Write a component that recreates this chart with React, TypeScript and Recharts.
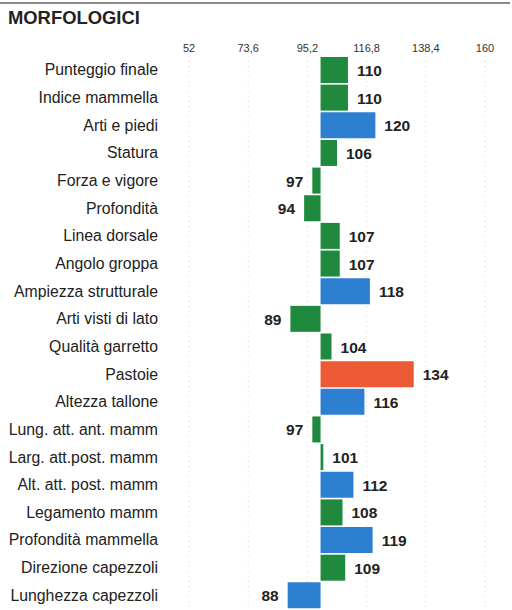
import React from 'react';
import { BarChart, Bar, XAxis, YAxis, CartesianGrid, LabelList, Cell } from 'recharts';

const traits = [
  'Punteggio finale',
  'Indice mammella',
  'Arti e piedi',
  'Statura',
  'Forza e vigore',
  'Profondità',
  'Linea dorsale',
  'Angolo groppa',
  'Ampiezza strutturale',
  'Arti visti di lato',
  'Qualità garretto',
  'Pastoie',
  'Altezza tallone',
  'Lung. att. ant. mamm',
  'Larg. att.post. mamm',
  'Alt. att. post. mamm',
  'Legamento mamm',
  'Profondità mammella',
  'Direzione capezzoli',
  'Lunghezza capezzoli',
];

const values = [110, 110, 120, 106, 97, 94, 107, 107, 118, 89, 104, 134, 116, 97, 101, 112, 108, 119, 109, 88];

const xTicks = [52, 73.6, 95.2, 116.8, 138.4, 160];
const BASE = 100;

const data = traits.map((name, i) => ({ name, v: values[i] }));

const barColor = (v: number) => {
  const d = Math.abs(v - BASE);
  if (d >= 30) return '#ec5a35';
  if (d >= 12) return '#2d7fd2';
  return '#1f8a3d';
};

const ValueLabel = (props: any) => {
  const { x, y, width, height, index } = props;
  const v = values[index];
  const cy = y + height / 2;
  if (v >= BASE) {
    return (
      <text x={x + width + 9} y={cy} dy={6} fontSize={15.5} fontWeight="bold" fill="#222" textAnchor="start">
        {v}
      </text>
    );
  }
  return (
    <text x={x - 9} y={cy} dy={6} fontSize={15.5} fontWeight="bold" fill="#222" textAnchor="end">
      {v}
    </text>
  );
};

export default function App() {
  return (
    <div
      style={{
        position: 'absolute',
        left: 0,
        top: 0,
        width: 512,
        height: 610,
        overflow: 'hidden',
        background: '#fff',
        fontFamily: '"Liberation Sans", Arial, sans-serif',
      }}
    >
      <div style={{ position: 'absolute', left: 0, top: 2, width: 510, height: 2, background: '#8a8a8a' }} />
      <div style={{ position: 'absolute', left: 8, top: 7, fontSize: 18.4, fontWeight: 'bold', color: '#222' }}>
        MORFOLOGICI
      </div>
      <div style={{ position: 'absolute', left: 0, top: 0 }}>
        <BarChart
          width={512}
          height={660}
          data={data}
          layout="vertical"
          margin={{ top: 0, right: 27, bottom: 51, left: 0 }}
          barCategoryGap={1}
        >
          <CartesianGrid horizontal={false} stroke="#d8d8d8" strokeDasharray="1 4" />
          <XAxis
            type="number"
            orientation="top"
            domain={[52, 160]}
            ticks={xTicks}
            interval={0}
            height={56}
            axisLine={false}
            tickLine={false}
            tickSize={0}
            tickMargin={4}
            tickFormatter={(t: number) => String(t).replace('.', ',')}
            tick={{ fontSize: 11, fill: '#333' }}
          />
          <YAxis
            type="category"
            dataKey="name"
            width={189}
            axisLine={false}
            tickLine={false}
            tickSize={0}
            tickMargin={31}
            interval={0}
            tick={{ fontSize: 15.8, fill: '#222' }}
          />
          <Bar
            dataKey={(d: any) => [Math.min(BASE, d.v), Math.max(BASE, d.v)]}
            isAnimationActive={false}
          >
            {data.map((d, i) => (
              <Cell key={`c-${i}`} fill={barColor(d.v)} />
            ))}
            <LabelList content={ValueLabel} />
          </Bar>
        </BarChart>
      </div>
    </div>
  );
}
